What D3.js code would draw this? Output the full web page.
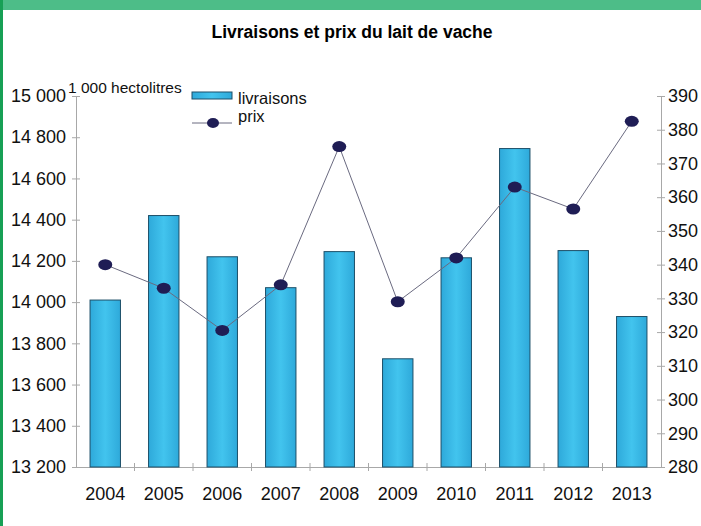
<!DOCTYPE html>
<html>
<head>
<meta charset="utf-8">
<script src="https://cdn.jsdelivr.net/npm/d3@7"></script>
<style>
  body { margin: 0; background: #fff; }
  svg { font-family: "Liberation Sans", Arial, sans-serif; }
</style>
</head>
<body>
<div id="chart"></div>
<script>
// Chart data
const years = ["2004", "2005", "2006", "2007", "2008", "2009", "2010", "2011", "2012", "2013"];
const livraisons = [14010, 14420, 14220, 14070, 14245, 13725, 14215, 14745, 14250, 13930];
const prix = [340, 333, 320.5, 334, 375, 329, 342, 363, 356.5, 382.5];
const leftTicks = [13200, 13400, 13600, 13800, 14000, 14200, 14400, 14600, 14800, 15000];
const rightTicks = [280, 290, 300, 310, 320, 330, 340, 350, 360, 370, 380, 390];

const width = 701, height = 526;
const svg = d3.select("#chart").append("svg")
    .attr("width", width)
    .attr("height", height);

// Frame: green band on top, green line on the left
svg.append("rect").attr("x", 0).attr("y", 0).attr("width", width).attr("height", 10).attr("fill", "#4dbd88");
svg.append("rect").attr("x", 0).attr("y", 0).attr("width", 3).attr("height", height).attr("fill", "#17a055");

svg.append("text")
    .attr("x", 352).attr("y", 38)
    .attr("text-anchor", "middle")
    .attr("font-size", 17.5).attr("font-weight", "bold")
    .text("Livraisons et prix du lait de vache");

const plotLeft = 76, plotRight = 661, plotTop = 96, plotBottom = 467;

const x = d3.scaleBand().domain(years).range([plotLeft, plotRight]).paddingInner(0.48).paddingOuter(0.24);
const yL = d3.scaleLinear().domain([13200, 15000]).range([plotBottom, plotTop]);
const yR = d3.scaleLinear().domain([280, 390]).range([plotBottom, plotTop]);

const axisColor = "#a8a8a8";
const tickFont = 18;

// Left axis
const gl = svg.append("g").attr("transform", `translate(${plotLeft},0)`)
    .call(d3.axisLeft(yL).tickValues(leftTicks).tickSize(0)
        .tickFormat(d => d3.format(",")(d).replace(",", " ")));
gl.select(".domain").attr("stroke", axisColor);
gl.selectAll(".tick").append("line").attr("x1", -4).attr("x2", 4).attr("stroke", axisColor);
gl.selectAll("text").attr("x", -10).attr("font-size", tickFont).attr("fill", "#111")
    .attr("font-family", "Liberation Sans, Arial, sans-serif");

// Right axis
const gr = svg.append("g").attr("transform", `translate(${plotRight},0)`)
    .call(d3.axisRight(yR).tickValues(rightTicks).tickSize(0));
gr.select(".domain").attr("stroke", axisColor);
gr.selectAll(".tick").append("line").attr("x1", -4).attr("x2", 4).attr("stroke", axisColor);
gr.selectAll("text").attr("x", 7).attr("font-size", tickFont).attr("fill", "#111")
    .attr("font-family", "Liberation Sans, Arial, sans-serif");

// Bottom axis, ticks between categories
const gb = svg.append("g").attr("transform", `translate(0,${plotBottom})`)
    .call(d3.axisBottom(x).tickSize(0));
gb.select(".domain").attr("stroke", axisColor);
gb.selectAll("text").attr("y", 20).attr("font-size", tickFont).attr("fill", "#111")
    .attr("font-family", "Liberation Sans, Arial, sans-serif");
const step = x.step();
svg.append("g").selectAll("line")
    .data(years.slice(1))
    .join("line")
    .attr("x1", d => x(d) - (step - x.bandwidth()) / 2)
    .attr("x2", d => x(d) - (step - x.bandwidth()) / 2)
    .attr("y1", plotBottom - 4).attr("y2", plotBottom + 4)
    .attr("stroke", axisColor);

// Bar gradient
const defs = svg.append("defs");
const grad = defs.append("linearGradient").attr("id", "barGrad").attr("x1", 0).attr("x2", 1);
grad.append("stop").attr("offset", "0%").attr("stop-color", "#2ea9da");
grad.append("stop").attr("offset", "50%").attr("stop-color", "#42c4ee");
grad.append("stop").attr("offset", "100%").attr("stop-color", "#2ea9da");

svg.append("g").selectAll("rect")
    .data(years)
    .join("rect")
    .attr("x", d => x(d))
    .attr("y", (d, i) => yL(livraisons[i]))
    .attr("width", x.bandwidth())
    .attr("height", (d, i) => plotBottom - yL(livraisons[i]))
    .attr("fill", "url(#barGrad)")
    .attr("stroke", "#1d4f68")
    .attr("stroke-width", 1);

// Price line
const line = d3.line()
    .x((d, i) => x(years[i]) + x.bandwidth() / 2)
    .y(d => yR(d));
svg.append("path")
    .datum(prix)
    .attr("d", line)
    .attr("fill", "none")
    .attr("stroke", "#6a6a80")
    .attr("stroke-width", 1);

svg.append("g").selectAll("ellipse")
    .data(prix)
    .join("ellipse")
    .attr("cx", (d, i) => x(years[i]) + x.bandwidth() / 2)
    .attr("cy", d => yR(d))
    .attr("rx", 7).attr("ry", 5.5)
    .attr("fill", "#1f1d55");

// Unit label
svg.append("text")
    .attr("x", 68).attr("y", 93)
    .attr("font-size", 15.5).attr("fill", "#111")
    .text("1 000 hectolitres");

// Legend
const lg = svg.append("g");
lg.append("rect").attr("x", 192).attr("y", 92).attr("width", 40).attr("height", 7)
    .attr("fill", "url(#barGrad)").attr("stroke", "#1d4f68");
lg.append("text").attr("x", 238).attr("y", 104).attr("font-size", 16.5).attr("fill", "#111").text("livraisons");
lg.append("line").attr("x1", 192).attr("x2", 232).attr("y1", 123).attr("y2", 123).attr("stroke", "#6a6a80");
lg.append("ellipse").attr("cx", 213).attr("cy", 123).attr("rx", 6).attr("ry", 5).attr("fill", "#1f1d55");
lg.append("text").attr("x", 238).attr("y", 122).attr("font-size", 16.5).attr("fill", "#111").text("prix");
</script>
</body>
</html>
